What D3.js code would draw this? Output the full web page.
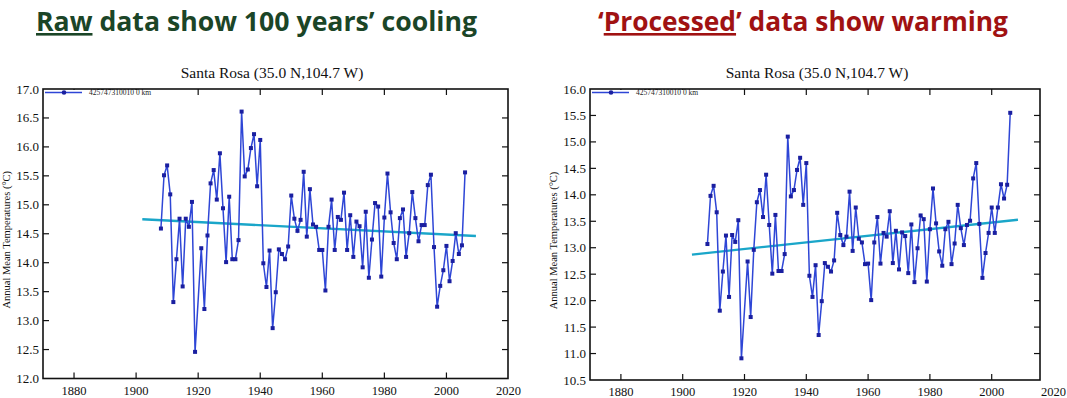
<!DOCTYPE html>
<html>
<head>
<meta charset="utf-8">
<script src="https://cdn.jsdelivr.net/npm/d3@7"></script>
<style>
  html, body { margin: 0; padding: 0; background: #fff; }
  svg { display: block; }
</style>
</head>
<body>
<script>
// Station years (1920 is missing in both records)
const years = [
  1908, 1909, 1910, 1911, 1912, 1913, 1914, 1915, 1916, 1917, 1918, 1919,
  1921, 1922, 1923, 1924, 1925, 1926, 1927, 1928, 1929,
  1930, 1931, 1932, 1933, 1934, 1935, 1936, 1937, 1938, 1939,
  1940, 1941, 1942, 1943, 1944, 1945, 1946, 1947, 1948, 1949,
  1950, 1951, 1952, 1953, 1954, 1955, 1956, 1957, 1958, 1959,
  1960, 1961, 1962, 1963, 1964, 1965, 1966, 1967, 1968, 1969,
  1970, 1971, 1972, 1973, 1974, 1975, 1976, 1977, 1978, 1979,
  1980, 1981, 1982, 1983, 1984, 1985, 1986, 1987, 1988, 1989,
  1990, 1991, 1992, 1993, 1994, 1995, 1996, 1997, 1998, 1999,
  2000, 2001, 2002, 2003, 2004, 2005, 2006,
];

const rawValues = [
  14.59, 15.51, 15.68, 15.18, 13.32, 14.06, 14.76, 13.59, 14.76, 14.62, 15.05, 12.46,
  14.25, 13.2, 14.47, 15.37, 15.6, 15.09, 15.89, 14.94, 14.01,
  15.14, 14.06, 14.06, 14.39, 16.61, 15.49, 15.61, 15.98, 16.22, 15.32,
  16.12, 13.99, 13.58, 14.21, 12.87, 13.49, 14.23, 14.15, 14.06, 14.28,
  15.16, 14.76, 14.55, 14.74, 15.57, 14.45, 15.27, 14.66, 14.62, 14.22,
  14.22, 13.52, 14.62, 15.09, 14.22, 14.79, 14.74, 15.21, 14.22, 14.82,
  14.1, 14.71, 14.63, 13.92, 14.88, 13.74, 14.4, 15.03, 14.97, 13.76,
  14.78, 15.54, 14.87, 14.34, 14.06, 14.77, 14.92, 14.1, 14.51, 15.22,
  14.77, 14.37, 14.65, 14.65, 15.34, 15.52, 14.27, 13.24, 13.6, 13.87,
  14.29, 13.68, 14.03, 14.51, 14.15, 14.3, 15.56,
];

const processedValues = [
  13.07, 13.98, 14.17, 13.67, 11.81, 12.55, 13.23, 12.07, 13.24, 13.11, 13.52, 10.91,
  12.74, 11.69, 12.96, 13.86, 14.09, 13.58, 14.38, 13.43, 12.51,
  13.62, 12.56, 12.56, 12.88, 15.1, 13.97, 14.09, 14.47, 14.7, 13.81,
  14.6, 12.47, 12.07, 12.67, 11.35, 11.99, 12.71, 12.64, 12.55, 12.76,
  13.66, 13.24, 13.05, 13.21, 14.06, 12.94, 13.76, 13.17, 13.1, 12.69,
  12.7, 12.01, 13.1, 13.58, 12.7, 13.28, 13.21, 13.69, 12.71, 13.32,
  12.59, 13.29, 13.22, 12.52, 13.44, 12.35, 12.99, 13.61, 13.54, 12.36,
  13.35, 14.12, 13.46, 12.93, 12.66, 13.35, 13.49, 12.69, 13.08, 13.81,
  13.37, 13.05, 13.43, 13.51, 14.31, 14.6, 13.45, 12.43, 12.9, 13.28,
  13.76, 13.28, 13.76, 14.2, 13.93, 14.19, 15.55,
];

// Trend line end points [year, value]
const rawTrend = [[1902, 14.75], [2009.5, 14.46]];
const processedTrend = [[1903, 12.87], [2008.5, 13.53]];

const xTicks = [1880, 1900, 1920, 1940, 1960, 1980, 2000, 2020];
const rawYDomain = [12.0, 17.0];
const processedYDomain = [10.5, 16.0];

const chartTitle = "Santa Rosa (35.0 N,104.7 W)";
const legendLabel = "425747310010 0 km";
const yLabel = "Annual Mean Temperatures (\u00B0C)";

const width = 1067,
  height = 398;

const svg = d3
  .select("body")
  .append("svg")
  .attr("width", width)
  .attr("height", height)
  .attr("viewBox", [0, 0, width, height]);

const serif = "'Liberation Serif', 'DejaVu Serif', serif";

function drawPanel(opt) {
  const g = svg.append("g");

  const x = d3.scaleLinear().domain([1870, 2020]).range([opt.left, opt.xEnd]);
  const y = d3.scaleLinear().domain(opt.yDomain).range([opt.bottom, opt.top]);
  const yTicks = d3.range(opt.yDomain[0], opt.yDomain[1] + 0.01, 0.5);

  // inward ticks
  const ticks = g.append("g").attr("stroke", "#111").attr("stroke-width", 1.2);
  const xIn = xTicks.filter((t) => x(t) < opt.right - 2);
  ticks.selectAll(".xb").data(xIn).join("line")
    .attr("x1", (d) => x(d)).attr("x2", (d) => x(d))
    .attr("y1", opt.bottom).attr("y2", opt.bottom - 6);
  ticks.selectAll(".xt").data(xIn).join("line")
    .attr("x1", (d) => x(d)).attr("x2", (d) => x(d))
    .attr("y1", opt.top).attr("y2", opt.top + 6);
  const yIn = yTicks.filter((t) => t > opt.yDomain[0] && t < opt.yDomain[1]);
  ticks.selectAll(".yl").data(yIn).join("line")
    .attr("x1", opt.left).attr("x2", opt.left + 6)
    .attr("y1", (d) => y(d)).attr("y2", (d) => y(d));
  ticks.selectAll(".yr").data(yIn).join("line")
    .attr("x1", opt.right).attr("x2", opt.right - 6)
    .attr("y1", (d) => y(d)).attr("y2", (d) => y(d));

  // tick labels
  g.append("g")
    .selectAll("text")
    .data(xTicks)
    .join("text")
    .attr("x", (d) => x(d))
    .attr("y", opt.bottom + 16)
    .attr("text-anchor", "middle")
    .attr("font-family", serif)
    .attr("font-size", 12.5)
    .attr("fill", "#111")
    .text((d) => d);

  g.append("g")
    .selectAll("text")
    .data(yTicks)
    .join("text")
    .attr("x", opt.left - 4)
    .attr("y", (d) => y(d) + 4.5)
    .attr("text-anchor", "end")
    .attr("font-family", serif)
    .attr("font-size", 13)
    .attr("fill", "#111")
    .text((d) => d.toFixed(1));

  // axis title
  g.append("text")
    .attr("transform", `translate(${opt.left - 33},${(opt.top + opt.bottom) / 2 + 6}) rotate(-90)`)
    .attr("text-anchor", "middle")
    .attr("font-family", serif)
    .attr("font-size", 10.5)
    .attr("fill", "#111")
    .text(yLabel);

  // chart title
  g.append("text")
    .attr("x", opt.titleX)
    .attr("y", 78)
    .attr("text-anchor", "middle")
    .attr("font-family", serif)
    .attr("font-size", 15.5)
    .attr("fill", "#111")
    .text(chartTitle);

  const data = years.map((yr, i) => ({ year: yr, value: opt.values[i] }));

  // trend
  g.append("path")
    .datum(opt.trend)
    .attr("fill", "none")
    .attr("stroke", "#1aa6c9")
    .attr("stroke-width", 2.4)
    .attr("d", d3.line().x((d) => x(d[0])).y((d) => y(d[1])));

  // series
  g.append("path")
    .datum(data)
    .attr("fill", "none")
    .attr("stroke", "#2e46d6")
    .attr("stroke-width", 1.5)
    .attr("d", d3.line().x((d) => x(d.year)).y((d) => y(d.value)));

  g.append("g")
    .selectAll("rect")
    .data(data)
    .join("rect")
    .attr("x", (d) => x(d.year) - 2)
    .attr("y", (d) => y(d.value) - 2)
    .attr("width", 4)
    .attr("height", 4)
    .attr("fill", "#1a1fa0");

  // legend (white box hides the first top ticks)
  const lg = g.append("g");
  lg.append("rect")
    .attr("x", opt.left + 1).attr("y", opt.top + 1)
    .attr("width", 110).attr("height", 8)
    .attr("fill", "#fff");
  lg.append("line")
    .attr("x1", opt.left + 2).attr("x2", opt.left + 39)
    .attr("y1", opt.top + 3.5).attr("y2", opt.top + 3.5)
    .attr("stroke", "#2e46d6").attr("stroke-width", 1.4);
  lg.append("circle")
    .attr("cx", opt.left + 21).attr("cy", opt.top + 3.5)
    .attr("r", 2.3)
    .attr("fill", "#1a1fa0");
  lg.append("text")
    .attr("x", opt.left + 46)
    .attr("y", opt.top + 6)
    .attr("font-family", serif)
    .attr("font-size", 7.5)
    .attr("fill", "#222")
    .text(legendLabel);

  // frame
  g.append("rect")
    .attr("x", opt.left)
    .attr("y", opt.top)
    .attr("width", opt.right - opt.left)
    .attr("height", opt.bottom - opt.top)
    .attr("fill", "none")
    .attr("stroke", "#111")
    .attr("stroke-width", 1.6);
}

drawPanel({
  left: 43, right: 508, xEnd: 508.5, top: 89, bottom: 378.5,
  yDomain: rawYDomain, values: rawValues, trend: rawTrend, titleX: 272,
});

drawPanel({
  left: 590, right: 1040, xEnd: 1053.5, top: 89, bottom: 380,
  yDomain: processedYDomain, values: processedValues, trend: processedTrend, titleX: 817,
});

// slide headings
const headFont = "'Open Sans', 'Noto Sans', sans-serif";

const h1 = svg.append("text")
  .attr("x", 36).attr("y", 31)
  .attr("font-family", headFont)
  .attr("font-weight", 700)
  .attr("font-size", 26)
  .attr("fill", "#1b4527")
  .attr("textLength", 441)
  .attr("lengthAdjust", "spacingAndGlyphs");
h1.append("tspan").attr("text-decoration", "underline").text("Raw");
h1.append("tspan").text(" data show 100 years\u2019 cooling");

const h2 = svg.append("text")
  .attr("x", 598).attr("y", 31)
  .attr("font-family", headFont)
  .attr("font-weight", 700)
  .attr("font-size", 26)
  .attr("fill", "#a01212")
  .attr("textLength", 410)
  .attr("lengthAdjust", "spacingAndGlyphs");
h2.append("tspan").text("\u2018");
h2.append("tspan").attr("text-decoration", "underline").text("Processed");
h2.append("tspan").text("\u2019 data show warming");
</script>
</body>
</html>
